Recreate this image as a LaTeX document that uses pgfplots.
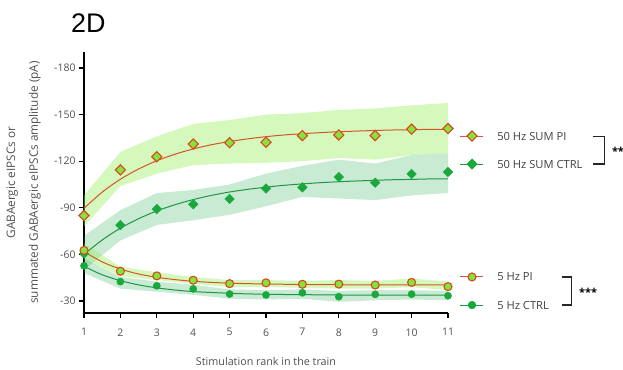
\documentclass[border=0pt]{standalone}
\usepackage{pgfplots}
\pgfplotsset{compat=1.18}
\usepackage{fontspec}
\setmainfont{Open Sans}
\newfontfamily\titlefont{Liberation Sans}
\definecolor{pilime}{RGB}{130,228,60}
\definecolor{piedge}{RGB}{220,70,30}
\definecolor{piline}{RGB}{214,84,40}
\definecolor{pilegline}{RGB}{232,80,80}
\definecolor{ctrlgreen}{RGB}{24,168,60}
\definecolor{ctrlline}{RGB}{30,150,70}
\definecolor{pifill}{RGB}{150,240,90}
\definecolor{ctrlfill}{RGB}{40,170,80}
\definecolor{tickgray}{RGB}{80,80,80}
\begin{document}
\begin{tikzpicture}
\useasboundingbox (-84bp,-57bp) rectangle (539bp,313bp);
\begin{axis}[
  scale only axis, width=364bp, height=261bp,
  xmin=1, xmax=11, ymin=-190.3, ymax=-22.3,
  y dir=reverse,
  axis x line=bottom, axis y line=left,
  axis line style={-, line width=1.2bp, black},
  xtick={1,...,11}, ytick={-180,-150,-120,-90,-60,-30},
  tick align=outside, major tick length=5bp,
  tick style={line width=1.2bp, black},
  /pgf/number format/assume math mode=true,
  ticklabel style={font=\fontsize{10.5}{12}\selectfont, text=tickgray},
  xticklabel style={yshift=-7bp},
  clip=false,
  every axis y label/.style={at={(axis description cs:-0.166,0.5)}, rotate=90, anchor=center, align=center, font=\fontsize{11.8}{23}\selectfont, text=tickgray},
  ylabel={GABAergic eIPSCs or\\summated GABAergic eIPSCs amplitude (pA)},
  every axis x label/.style={at={(axis description cs:0.5,-0.186)}, anchor=center, font=\fontsize{10.8}{12}\selectfont, text=tickgray},
  xlabel={Stimulation rank in the train},
]
% bands
\addplot[fill=pifill, fill opacity=0.4, draw=none] coordinates {(1,-98) (2,-126) (3,-136) (4,-144) (5,-146.5) (6,-150) (7,-151) (8,-153) (9,-154) (10,-156) (11,-157.5) (11,-125) (10,-124) (9,-121) (8,-122) (7,-120) (6,-119) (5,-118.5) (4,-117.5) (3,-112) (2,-104) (1,-78)} -- cycle;
\addplot[fill=ctrlfill, fill opacity=0.25, draw=none] coordinates {(1,-72) (2,-88.5) (3,-99.5) (4,-101.5) (5,-105) (6,-112) (7,-117) (8,-121) (9,-118.5) (10,-124) (11,-125) (11,-99.5) (10,-98) (9,-95) (8,-96) (7,-97) (6,-91) (5,-85.5) (4,-82) (3,-79) (2,-69) (1,-50)} -- cycle;
\addplot[fill=pifill, fill opacity=0.4, draw=none] coordinates {(1,-67) (2,-52) (3,-48.5) (4,-45.5) (5,-43.5) (6,-43.5) (7,-43) (8,-43.5) (9,-43) (10,-44.5) (11,-42.5) (11,-37) (10,-39) (9,-38) (8,-38) (7,-38.5) (6,-39) (5,-39) (4,-41) (3,-43.5) (2,-46) (1,-57.5)} -- cycle;
\addplot[fill=ctrlfill, fill opacity=0.25, draw=none] coordinates {(1,-57.5) (2,-45.5) (3,-42.5) (4,-40.5) (5,-37.5) (6,-37) (7,-37.5) (8,-36.5) (9,-37) (10,-37) (11,-36.5) (11,-30.5) (10,-31) (9,-30.5) (8,-29.5) (7,-31.5) (6,-31) (5,-31.5) (4,-34) (3,-36) (2,-38) (1,-48)} -- cycle;
% fitted curves
\addplot[piline, line width=1bp, smooth] coordinates {(1,-89.7) (1.5,-100.1) (2,-108.4) (2.5,-115.0) (3,-120.3) (3.5,-124.5) (4,-127.9) (4.5,-130.6) (5,-132.7) (5.5,-134.4) (6,-135.8) (6.5,-136.9) (7,-137.7) (7.5,-138.4) (8,-139.0) (8.5,-139.4) (9,-139.8) (9.5,-140.1) (10,-140.3) (10.5,-140.5) (11,-140.6)};
\addplot[ctrlline, line width=1bp, smooth] coordinates {(1,-60) (1.5,-69.3) (2,-76.9) (2.5,-83.0) (3,-88.0) (3.5,-92.0) (4,-95.3) (4.5,-98.0) (5,-100.2) (5.5,-101.9) (6,-103.3) (6.5,-104.5) (7,-105.4) (7.5,-106.2) (8,-106.8) (8.5,-107.3) (9,-107.7) (9.5,-108.1) (10,-108.3) (10.5,-108.6) (11,-108.7)};
\addplot[piline, line width=1bp, smooth] coordinates {(1,-61.8) (1.5,-55.2) (2,-50.6) (2.5,-47.4) (3,-45.3) (3.5,-43.8) (4,-42.7) (4.5,-42.0) (5,-41.5) (5.5,-41.2) (6,-40.9) (6.5,-40.8) (7,-40.6) (8,-40.5) (9,-40.4) (10,-40.4) (11,-40.4)};
\addplot[ctrlline, line width=1bp, smooth] coordinates {(1,-52.3) (1.5,-46.9) (2,-43.1) (2.5,-40.4) (3,-38.5) (3.5,-37.1) (4,-36.1) (4.5,-35.5) (5,-35.0) (5.5,-34.6) (6,-34.4) (6.5,-34.2) (7,-34.1) (8,-33.9) (9,-33.8) (10,-33.8) (11,-33.8)};
% data points
\addplot[only marks, mark=square*, mark size=3.6bp, mark options={rotate=45, fill=pilime, draw=piedge, line width=1.1bp}] coordinates {(1,-85.0) (2,-114.4) (3,-122.9) (4,-131.1) (5,-131.9) (6,-132.2) (7,-136.5) (8,-136.9) (9,-136.5) (10,-140.6) (11,-141.0)};
\addplot[only marks, mark=square*, mark size=3.4bp, mark options={rotate=45, fill=ctrlgreen, draw=ctrlgreen}] coordinates {(1,-60.5) (2,-78.9) (3,-89.2) (4,-92.3) (5,-95.7) (6,-102.4) (7,-103.2) (8,-109.8) (9,-106.2) (10,-111.8) (11,-113.1)};
\addplot[only marks, mark=*, mark size=4bp, mark options={fill=pilime, draw=piedge, line width=1.1bp}] coordinates {(1,-62.6) (2,-49.2) (3,-46.2) (4,-43.4) (5,-41.2) (6,-41.7) (7,-40.8) (8,-40.9) (9,-40.3) (10,-42.0) (11,-39.3)};
\addplot[only marks, mark=*, mark size=3.6bp, mark options={fill=ctrlgreen, draw=ctrlgreen}] coordinates {(1,-52.7) (2,-42.5) (3,-39.8) (4,-37.8) (5,-34.5) (6,-33.9) (7,-35.3) (8,-32.8) (9,-34.3) (10,-34.4) (11,-33.4)};
% legend
\addplot[pilegline, line width=1bp, mark=square*, mark indices={2}, mark size=3.6bp, mark options={rotate=45, fill=pilime, draw=piedge, line width=1.1bp}] coordinates {(11.33,-136.2) (11.66,-136.2) (11.96,-136.2)};
\addplot[ctrlline, line width=1bp, mark=square*, mark indices={2}, mark size=3.4bp, mark options={rotate=45, fill=ctrlgreen, draw=ctrlgreen}] coordinates {(11.33,-118.2) (11.66,-118.2) (11.96,-118.2)};
\addplot[pilegline, line width=1bp, mark=*, mark indices={2}, mark size=4bp, mark options={fill=pilime, draw=piedge, line width=1.1bp}] coordinates {(11.33,-45.5) (11.66,-45.5) (11.96,-45.5)};
\addplot[ctrlline, line width=1bp, mark=*, mark indices={2}, mark size=3.6bp, mark options={fill=ctrlgreen, draw=ctrlgreen}] coordinates {(11.33,-27.4) (11.66,-27.4) (11.96,-27.4)};
\begin{scope}[every node/.style={anchor=west, inner sep=0pt, font=\fontsize{11.2}{13}\selectfont, text=black!75}]
\node at (axis cs:12.35,-136.2) {50 Hz SUM PI};
\node at (axis cs:12.35,-118.2) {50 Hz SUM CTRL};
\node at (axis cs:12.35,-45.5) {5 Hz PI};
\node at (axis cs:12.35,-27.4) {5 Hz CTRL};
\end{scope}
\draw[line width=1.2bp, black!85] (axis cs:14.98,-136.0) -| (axis cs:15.29,-118.2) -- (axis cs:14.98,-118.2);
\draw[line width=1.2bp, black!85] (axis cs:14.12,-45.5) -| (axis cs:14.40,-27.4) -- (axis cs:14.12,-27.4);
\node[anchor=west, inner sep=0pt, font=\fontsize{11}{13}\selectfont\bfseries] at (axis cs:15.5,-126.5) {**};
\node[anchor=west, inner sep=0pt, font=\fontsize{11}{13}\selectfont\bfseries] at (axis cs:14.6,-35.5) {***};
\end{axis}
\node[anchor=base west, inner sep=0pt, font=\titlefont\fontsize{27}{30}\selectfont] at (-13bp,280bp) {2D};
\end{tikzpicture}
\end{document}
